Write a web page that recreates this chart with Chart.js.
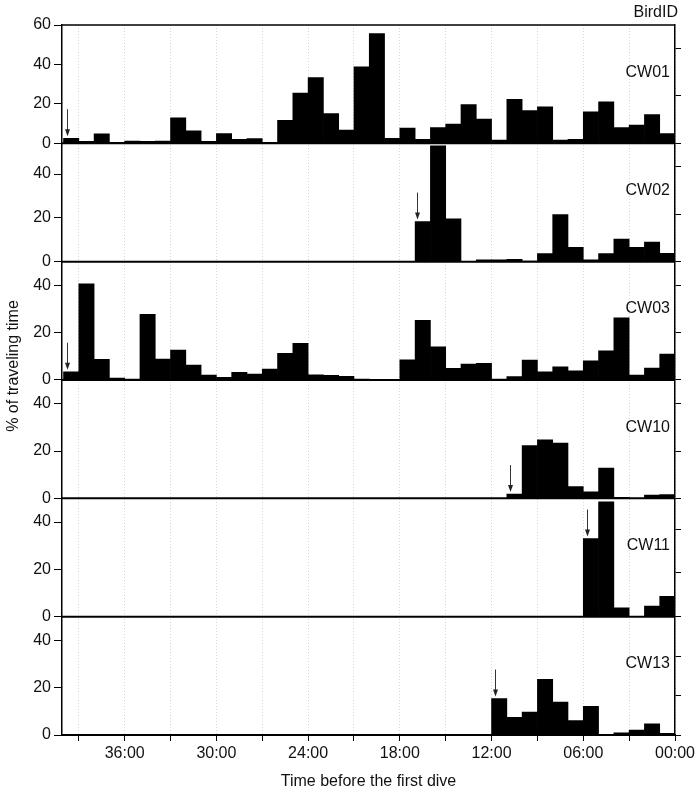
<!DOCTYPE html>
<html>
<head>
<meta charset="utf-8">
<script src="https://cdn.jsdelivr.net/npm/chart.js@4.4.1/dist/chart.umd.min.js"></script>
<style>
  html, body { margin: 0; padding: 0; background: #fff; }
</style>
</head>
<body>
<canvas id="myChart" width="700" height="793"></canvas>
<script>
// one bar per hour, from 40-39 h before the first dive down to 1-0 h
var binHours = [39.5, 38.5, 37.5, 36.5, 35.5, 34.5, 33.5, 32.5, 31.5, 30.5,
                29.5, 28.5, 27.5, 26.5, 25.5, 24.5, 23.5, 22.5, 21.5, 20.5,
                19.5, 18.5, 17.5, 16.5, 15.5, 14.5, 13.5, 12.5, 11.5, 10.5,
                9.5, 8.5, 7.5, 6.5, 5.5, 4.5, 3.5, 2.5, 1.5, 0.5];

var birds = ["CW01", "CW02", "CW03", "CW10", "CW11", "CW13"];

var cw01 = [2.6, 1, 4.8, 0.5, 1.2, 1, 1.2, 12.9, 6.3, 1,
            5, 2, 2.4, 0.5, 11.7, 25.5, 33.3, 15.1, 6.7, 38.8,
            55.7, 2.6, 7.7, 2, 8, 9.8, 19.7, 12.3, 1.7, 22.3,
            16.6, 18.5, 1.7, 2, 16, 21.1, 8, 9.3, 14.6, 5];
var cw02 = [0, 0, 0, 0, 0, 0, 0, 0, 0, 0,
            0, 0, 0, 0, 0, 0, 0, 0, 0, 0,
            0, 0, 0, 18.3, 52.9, 19.5, 0, 0.8, 0.8, 1.1,
            0.3, 3.7, 21.5, 6.5, 0.8, 3.7, 10.3, 6.5, 8.9, 3.8];
var cw03 = [3.5, 40.6, 8.7, 0.8, 0.4, 27.7, 8.8, 12.6, 6.3, 2.1,
            1.1, 3.2, 2.5, 4.6, 11.3, 15.5, 2.2, 2, 1.5, 0.4,
            0.3, 0.3, 8.5, 25.2, 14, 4.9, 6.7, 7, 0.4, 1.4,
            8.4, 3.5, 5.6, 3.9, 8.1, 12.3, 26.3, 2.1, 5, 10.9];
var cw10 = [0, 0, 0, 0, 0, 0, 0, 0, 0, 0,
            0, 0, 0, 0, 0, 0, 0, 0, 0, 0,
            0, 0, 0, 0, 0, 0, 0, 0, 0, 1.8,
            22.3, 24.7, 23.3, 5, 2.8, 12.8, 0.4, 0, 1.4, 1.6];
var cw11 = [0, 0, 0, 0, 0, 0, 0, 0, 0, 0,
            0, 0, 0, 0, 0, 0, 0, 0, 0, 0,
            0, 0, 0, 0, 0, 0, 0, 0, 0, 0,
            0, 0, 0, 0, 33, 48.5, 3.7, 0, 4.5, 8.6];
var cw13 = [0, 0, 0, 0, 0, 0, 0, 0, 0, 0,
            0, 0, 0, 0, 0, 0, 0, 0, 0, 0,
            0, 0, 0, 0, 0, 0, 0, 0, 15.4, 7.5,
            9.7, 23.5, 13.9, 6.1, 12.1, 0, 0.9, 2.1, 4.7, 0.7];

var series = [cw01, cw02, cw03, cw10, cw11, cw13];
var yMax = [60, 54, 50, 50, 50, 50];
// hour at which the arrow (start of travel) is drawn in each panel
var arrowHour = [39.75, 16.9, 39.8, 10.8, 5.75, 11.75];

var FONT = '"Liberation Sans", Arial, sans-serif';
Chart.defaults.font.family = FONT;
Chart.defaults.color = "#111";

function hourLabel(v) {
  var h = Math.round(v);
  if (h % 6 !== 0) return "";
  return (h < 10 ? "0" + h : "" + h) + ":00";
}

var scales = {
  x: {
    type: "linear",
    position: "bottom",
    reverse: true,
    offset: false,
    min: 0,
    max: 40.1,
    afterFit: function (s) { s.height = 58; },
    grid: { offset: false, color: "#d6d6d6", lineWidth: 1, tickLength: 6, tickColor: "#000", tickWidth: 1 },
    border: { color: "#000", width: 2, dash: [1, 2] },
    ticks: {
      stepSize: 3, includeBounds: false, autoSkip: false, maxRotation: 0,
      padding: 3, font: { size: 16 }, callback: hourLabel
    },
    title: { display: true, text: "Time before the first dive", font: { size: 16 }, padding: { top: 0, bottom: 2 } }
  }
};

// stacked axes are placed from the bottom up, so add the last panel first
for (var i = birds.length - 1; i >= 0; i--) {
  scales["y" + i] = {
    type: "linear", position: "left", stack: "left", stackWeight: 1,
    min: 0, max: yMax[i],
    afterFit: function (s) { s.width = 60; },
    grid: { drawOnChartArea: false, tickLength: 8, tickColor: "#000", tickWidth: 1 },
    border: { color: "#000", width: 1.5 },
    ticks: { stepSize: 20, includeBounds: false, autoSkip: false, padding: 3, font: { size: 16 } }
  };
  scales["r" + i] = {
    type: "linear", position: "right", stack: "right", stackWeight: 1,
    min: 0, max: yMax[i],
    afterFit: function (s) { s.width = 8; },
    grid: { drawOnChartArea: false, tickLength: 6, tickColor: "#000", tickWidth: 1 },
    border: { color: "#000", width: 1.5 },
    ticks: { stepSize: 20, includeBounds: false, autoSkip: false, display: false }
  };
}

var datasets = birds.map(function (b, i) {
  return {
    label: b,
    data: binHours.map(function (h, k) { return { x: h, y: series[i][k] }; }),
    xAxisID: "x",
    yAxisID: "y" + i,
    backgroundColor: "#000",
    borderWidth: 0,
    barPercentage: 1,
    categoryPercentage: 1,
    grouped: false
  };
});

var panelDecor = {
  id: "panelDecor",
  afterDatasetsDraw: function (chart) {
    var ctx = chart.ctx, area = chart.chartArea, xs = chart.scales.x;
    ctx.save();
    birds.forEach(function (b, i) {
      var ys = chart.scales["y" + i];
      var y0 = ys.getPixelForValue(0);
      ctx.strokeStyle = "#000";
      ctx.lineWidth = 2;
      ctx.beginPath();
      ctx.moveTo(area.left, y0);
      ctx.lineTo(area.right, y0);
      ctx.stroke();

      ctx.fillStyle = "#111";
      ctx.font = "16px " + FONT;
      ctx.textAlign = "right";
      ctx.textBaseline = "middle";
      ctx.fillText(b, area.right - 5, ys.top + (ys.bottom - ys.top) * 0.4);

      // arrow pointing at the first travelling bar
      var h = arrowHour[i];
      var k = Math.floor(40 - h);
      var ax = Math.round(xs.getPixelForValue(h)) + 0.5;
      var tip = ys.getPixelForValue(series[i][k]) - 2;
      ctx.strokeStyle = "#333";
      ctx.lineWidth = 1;
      ctx.beginPath();
      ctx.moveTo(ax, tip - 27);
      ctx.lineTo(ax, tip - 4);
      ctx.stroke();
      ctx.fillStyle = "#222";
      ctx.beginPath();
      ctx.moveTo(ax - 2.5, tip - 7);
      ctx.lineTo(ax + 2.5, tip - 7);
      ctx.lineTo(ax, tip);
      ctx.closePath();
      ctx.fill();
    });

    ctx.strokeStyle = "#000";
    ctx.lineWidth = 1.5;
    ctx.beginPath();
    ctx.moveTo(area.left, area.top);
    ctx.lineTo(area.right, area.top);
    ctx.stroke();

    ctx.fillStyle = "#111";
    ctx.font = "16px " + FONT;
    ctx.textAlign = "right";
    ctx.textBaseline = "middle";
    ctx.fillText("BirdID", area.right + 3, area.top - 12);

    ctx.translate(14, (area.top + area.bottom) / 2 - 14);
    ctx.rotate(-Math.PI / 2);
    ctx.textAlign = "center";
    ctx.fillText("% of traveling time", 0, 0);
    ctx.restore();
  }
};

var ctx = document.getElementById("myChart").getContext("2d");
var myChart = new Chart(ctx, {
  type: "bar",
  data: { datasets: datasets },
  options: {
    responsive: false,
    animation: false,
    layout: { padding: { left: 2, right: 17, top: 25, bottom: 0 } },
    plugins: { legend: { display: false }, tooltip: { enabled: false } },
    scales: scales
  },
  plugins: [panelDecor]
});
</script>
</body>
</html>
